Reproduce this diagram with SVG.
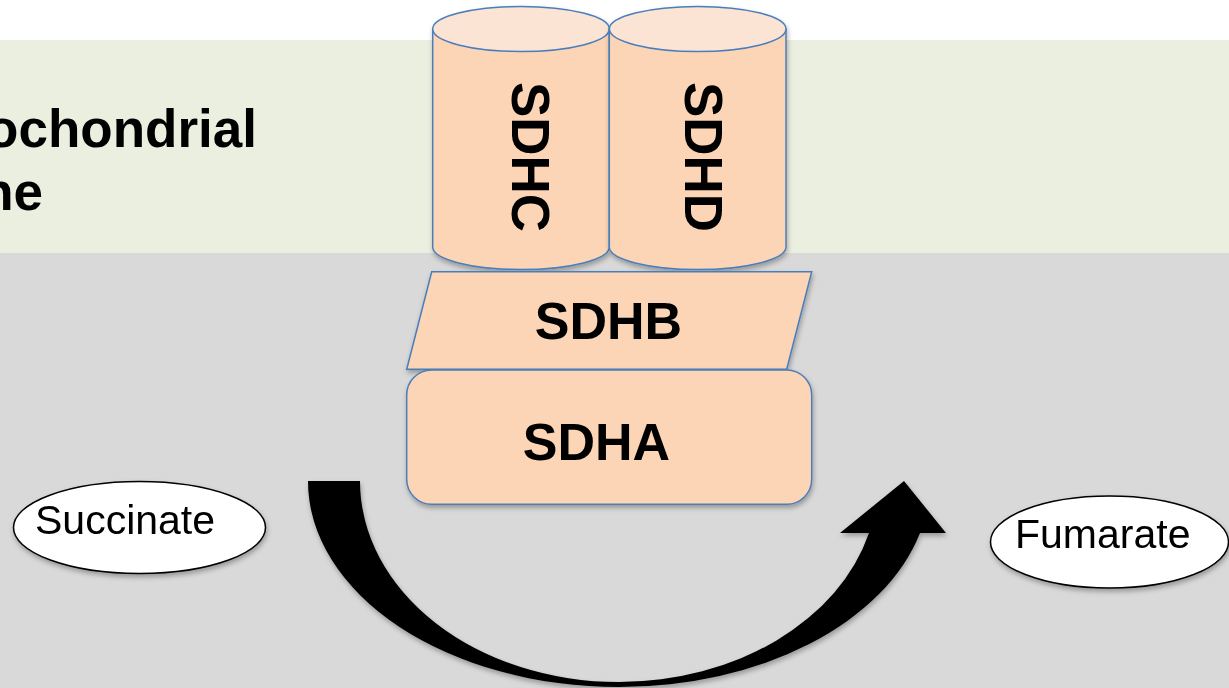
<svg xmlns="http://www.w3.org/2000/svg" width="1229" height="688" viewBox="0 0 1229 688">
<style>
.bold{font-family:"Liberation Sans",Arial,sans-serif;font-weight:bold;fill:#000}
.lbl{font-family:"Liberation Sans",Arial,sans-serif;fill:#000;font-size:41px}
.body{fill:#FBD5B5;stroke:#4A7EBB;stroke-width:1.5}
.top{fill:#FCE4D4;stroke:#4A7EBB;stroke-width:1.5}
.oval{fill:#fff;stroke:#000;stroke-width:1.5}
</style>
<defs>
<filter id="sh" x="-10%" y="-10%" width="130%" height="130%">
<feDropShadow dx="1" dy="3" stdDeviation="2.5" flood-color="#000" flood-opacity="0.3"/>
</filter>
</defs>
<rect x="0" y="0" width="1229" height="688" fill="#fff"/>
<rect x="0" y="40" width="1229" height="213" fill="#EBEFDF"/>
<rect x="0" y="253" width="1229" height="435" fill="#D9D9D9"/>
<g id="title">
<text class="bold" font-size="53" x="257" y="147" text-anchor="end">ochondrial</text>
<text class="bold" font-size="53" x="43" y="210" text-anchor="end">ne</text>
</g>
<g id="sdhc" filter="url(#sh)">
<path class="body" d="M432.7,29 L432.7,247 A88.3,22.5 0 0 0 609.3,247 L609.3,29 Z"/>
<ellipse class="top" cx="521" cy="29" rx="88.3" ry="22.5"/>
<text class="bold" font-size="53" transform="translate(512,157) rotate(90)" text-anchor="middle">SDHC</text>
</g>
<g id="sdhd" filter="url(#sh)">
<path class="body" d="M609.3,29 L609.3,247 A88.3,22.5 0 0 0 786,247 L786,29 Z"/>
<ellipse class="top" cx="697.7" cy="29" rx="88.3" ry="22.5"/>
<text class="bold" font-size="53" transform="translate(685,157) rotate(90)" text-anchor="middle">SDHD</text>
</g>
<g id="sdhb" filter="url(#sh)">
<polygon class="body" points="431.7,271.7 811.7,271.7 786.7,369.3 406.7,369.3"/>
<text class="bold" font-size="52" x="608.5" y="339" text-anchor="middle">SDHB</text>
</g>
<g id="sdha" filter="url(#sh)">
<rect class="body" x="406.7" y="370" width="405" height="134.3" rx="25" ry="25"/>
<text class="bold" font-size="52" x="596.5" y="460" text-anchor="middle">SDHA</text>
</g>
<g id="succinate" filter="url(#sh)">
<ellipse class="oval" cx="139.5" cy="527.5" rx="126" ry="46"/>
<text class="lbl" x="35" y="534">Succinate</text>
</g>
<g id="fumarate" filter="url(#sh)">
<ellipse class="oval" cx="1109.5" cy="542" rx="119" ry="46"/>
<text class="lbl" x="1015" y="548">Fumarate</text>
</g>
<g id="connectors" filter="url(#sh)">
<path fill="#000" d="M308,481 A311,206 0 0 0 619,687 A311,206 0 0 0 920,533 L946,533 L904,481 L840,533 L869,533 A259,201 0 0 1 619,682 A259,201 0 0 1 360,481 Z"/>
</g>
</svg>
